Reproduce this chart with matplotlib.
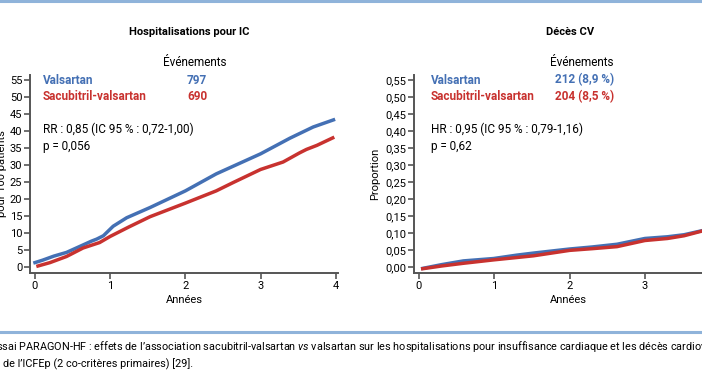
import matplotlib.pyplot as plt
from matplotlib.ticker import FuncFormatter

# Hospitalisations pour IC (événements pour 100 patients)
hosp_years_val = [0, 0.1, 0.25, 0.42, 0.64, 0.75, 0.82, 0.91, 1.04, 1.22, 1.53, 2.0, 2.41, 3.0, 3.39, 3.70, 3.97]
hosp_val = [1.3, 2.0, 3.2, 4.3, 6.5, 7.6, 8.2, 9.2, 12.0, 14.5, 17.5, 22.4, 27.4, 33.3, 37.9, 41.2, 43.3]
hosp_years_sac = [0.04, 0.2, 0.42, 0.64, 0.86, 1.0, 1.25, 1.53, 2.0, 2.41, 2.64, 3.0, 3.3, 3.52, 3.61, 3.75, 3.96]
hosp_sac = [0.3, 1.3, 3.1, 5.6, 7.2, 9.0, 11.8, 14.8, 18.8, 22.4, 24.9, 28.7, 30.9, 33.6, 34.6, 35.8, 38.0]

# Décès CV (proportion)
cv_years = [0.05, 0.3, 0.59, 0.99, 1.3, 1.52, 2.0, 2.3, 2.63, 3.0, 3.3, 3.52, 3.76, 3.96]
cv_val = [-0.004, 0.007, 0.018, 0.025, 0.035, 0.041, 0.053, 0.059, 0.067, 0.084, 0.089, 0.095, 0.107, 0.118]
cv_sac = [-0.005, 0.003, 0.011, 0.021, 0.028, 0.033, 0.049, 0.054, 0.060, 0.078, 0.084, 0.092, 0.106, 0.120]

hosp_ticks = list(range(0, 60, 5))
cv_ticks = [i * 0.05 for i in range(12)]
year_ticks = [0, 1, 2, 3, 4]

BLUE = '#4470b4'
RED = '#c8322f'
GREY = '#555555'
SEP = '#8fb3da'

plt.rcParams['font.family'] = ['Roboto', 'DejaVu Sans']
plt.rcParams['mathtext.fontset'] = 'custom'
plt.rcParams['mathtext.it'] = 'Roboto:italic'
plt.rcParams['mathtext.rm'] = 'Roboto'

W, H = 702, 370
fig = plt.figure(figsize=(W / 100, H / 100), dpi=100)


def fx(px):
    return px / W


def fy(py):
    return 1 - py / H


def style_axis(ax):
    for side in ['top', 'right']:
        ax.spines[side].set_visible(False)
    for side in ['left', 'bottom']:
        ax.spines[side].set_color(GREY)
        ax.spines[side].set_linewidth(1.4)
    ax.tick_params(direction='out', length=4, width=1.2, color=GREY,
                   labelsize=8, pad=1.5)
    ax.set_xticks(year_ticks)
    ax.set_xlim(-0.066, 4.03)
    ax.set_xlabel('Années', fontsize=8, labelpad=3)


comma = FuncFormatter(lambda v, p: ('%.2f' % v).replace('.', ','))

# left panel
ax1 = fig.add_axes([fx(30), fy(273), fx(338) - fx(30), fy(75) - fy(273)])
style_axis(ax1)
ax1.plot(hosp_years_val, hosp_val, color=BLUE, lw=2.5)
ax1.plot(hosp_years_sac, hosp_sac, color=RED, lw=2.5)
ax1.set_ylim(-1.76, 56.5)
ax1.set_yticks(hosp_ticks)
ax1.set_ylabel("Nombre d'événements\npour 100 patients", fontsize=8, labelpad=2)

# right panel (runs off the right edge)
ax2 = fig.add_axes([fx(414), fy(273), fx(722.5) - fx(414), fy(75) - fy(273)])
style_axis(ax2)
ax2.plot(cv_years, cv_val, color=BLUE, lw=2.5)
ax2.plot(cv_years, cv_sac, color=RED, lw=2.5)
ax2.set_ylim(-0.0176, 0.565)
ax2.set_yticks(cv_ticks)
ax2.yaxis.set_major_formatter(comma)
ax2.set_ylabel('Proportion', fontsize=8, labelpad=4)

# titles and annotations
fig.text(fx(189), fy(32), 'Hospitalisations pour IC', ha='center', va='center',
         fontsize=8, fontweight='bold')
fig.text(fx(570), fy(32), 'Décès CV', ha='center', va='center',
         fontsize=8, fontweight='bold')

fig.text(fx(195), fy(63), 'Événements', ha='center', va='center', fontsize=8.5)
fig.text(fx(43), fy(80), 'Valsartan', va='center', fontsize=8.5,
         fontweight='bold', color=BLUE)
fig.text(fx(43), fy(97), 'Sacubitril-valsartan', va='center', fontsize=8.5,
         fontweight='bold', color=RED)
fig.text(fx(187), fy(80), '797', va='center', fontsize=8.5,
         fontweight='bold', color=BLUE)
fig.text(fx(187), fy(97), '690', va='center', fontsize=8.5,
         fontweight='bold', color=RED)
fig.text(fx(43), fy(129), 'RR : 0,85 (IC 95 % : 0,72-1,00)', va='center', fontsize=8.5)
fig.text(fx(43), fy(147), 'p = 0,056', va='center', fontsize=8.5)

fig.text(fx(582), fy(63), 'Événements', ha='center', va='center', fontsize=8.5)
fig.text(fx(431), fy(80), 'Valsartan', va='center', fontsize=8.5,
         fontweight='bold', color=BLUE)
fig.text(fx(431), fy(97), 'Sacubitril-valsartan', va='center', fontsize=8.5,
         fontweight='bold', color=RED)
fig.text(fx(555), fy(80), '212 (8,9 %)', va='center', fontsize=8.5,
         fontweight='bold', color=BLUE)
fig.text(fx(555), fy(97), '204 (8,5 %)', va='center', fontsize=8.5,
         fontweight='bold', color=RED)
fig.text(fx(431), fy(129), 'HR : 0,95 (IC 95 % : 0,79-1,16)', va='center', fontsize=8.5)
fig.text(fx(431), fy(147), 'p = 0,62', va='center', fontsize=8.5)

# separators and caption
fig.add_artist(plt.Line2D([0, 1], [fy(1), fy(1)], color=SEP, lw=2.2))
fig.add_artist(plt.Line2D([0, 1], [fy(332), fy(332)], color=SEP, lw=2.2))
fig.text(fx(-10), fy(347),
         'Essai PARAGON-HF : effets de l’association sacubitril-valsartan $\\it{vs}$ '
         'valsartan sur les hospitalisations pour insuffisance cardiaque et les décès '
         'cardiovasculaires', va='center', fontsize=7.8)
fig.text(fx(3), fy(364), 'de l’ICFEp (2 co-critères primaires) [29].',
         va='center', fontsize=7.8)

fig.savefig('out.png', dpi=100)
